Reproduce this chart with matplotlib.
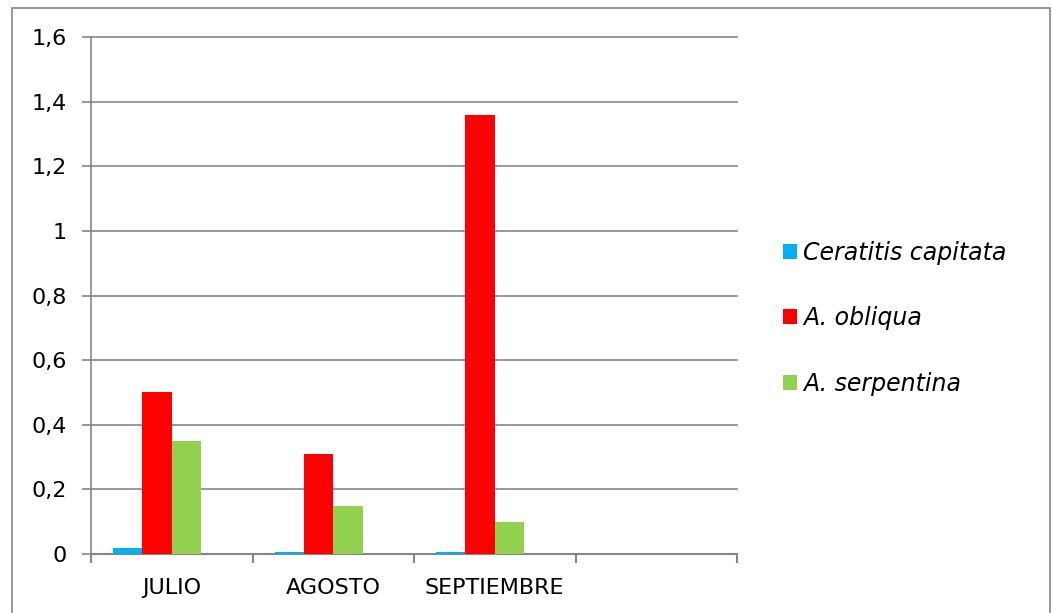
import numpy as np
import matplotlib
matplotlib.use("Agg")
import matplotlib.pyplot as plt
from matplotlib.patches import Rectangle
from matplotlib.ticker import FuncFormatter

# meses y series (la cuarta categoria esta vacia en el original)
meses = ["JULIO", "AGOSTO", "SEPTIEMBRE", ""]
ceratitis = [0.018, 0.005, 0.005, 0]
obliqua = [0.50, 0.31, 1.36, 0]
serpentina = [0.35, 0.15, 0.10, 0]

nombres = ["Ceratitis capitata", "A. obliqua", "A. serpentina"]
colores = ["#00B0F0", "#FF0000", "#92D050"]

plt.rcParams['font.family'] = ['DejaVu Sans']

fig = plt.figure(figsize=(10.52, 6.13), dpi=100)
ax = fig.add_axes([91/1052, 1 - 554/613, (737-91)/1052, (554-37)/613])

# borde exterior del grafico
fig.patches.append(Rectangle((12/1052, -0.05), (1050-12)/1052, 1.05 - 8/613,
                             transform=fig.transFigure, fill=False,
                             edgecolor="#868686", linewidth=1.2))

x = np.arange(len(meses))
w = 1 / 5.5   # 4 barras + separacion 150%
for i, (vals, c, n) in enumerate(zip([ceratitis, obliqua, serpentina], colores, nombres)):
    ax.bar(x - 1.5*w + i*w, vals, width=w, color=c, label=n, zorder=3)

ax.set_xlim(-0.5, len(meses) - 0.5)
ax.set_ylim(0, 1.6)
ax.set_yticks(np.arange(0, 1.61, 0.2))
ax.yaxis.set_major_formatter(FuncFormatter(lambda v, p: ("%g" % round(v, 1)).replace(".", ",")))
ax.set_xticks(np.arange(-0.5, len(meses), 1))
ax.set_xticklabels([])
ax.set_xticks(x, minor=True)
ax.set_xticklabels(meses, minor=True)
ax.tick_params(axis="x", which="minor", length=0, pad=17, labelsize=16)
ax.tick_params(axis="x", which="major", length=6.5, width=1.5, color="#868686")
ax.tick_params(axis="y", length=6.5, width=1.2, color="#868686", labelsize=16, pad=11)

ax.grid(axis="y", color="#868686", linewidth=1.2, zorder=0)
for gl in ax.get_ygridlines():
    gl.set_clip_on(False)
for s in ["top", "right"]:
    ax.spines[s].set_visible(False)
ax.spines["left"].set_color("#868686")
ax.spines["bottom"].set_color("#868686")
ax.spines["left"].set_linewidth(1.2)
ax.spines["bottom"].set_linewidth(1.5)

leg = ax.legend(loc="center left", frameon=False, borderpad=0, borderaxespad=0,
                prop={"style": "italic", "size": 17}, handlelength=0.6, handleheight=0.6,
                handletextpad=0.25, labelspacing=1.75)
leg.set_bbox_to_anchor((1.071, 0.456), transform=ax.transAxes)

fig.savefig("out.png", dpi=100)
